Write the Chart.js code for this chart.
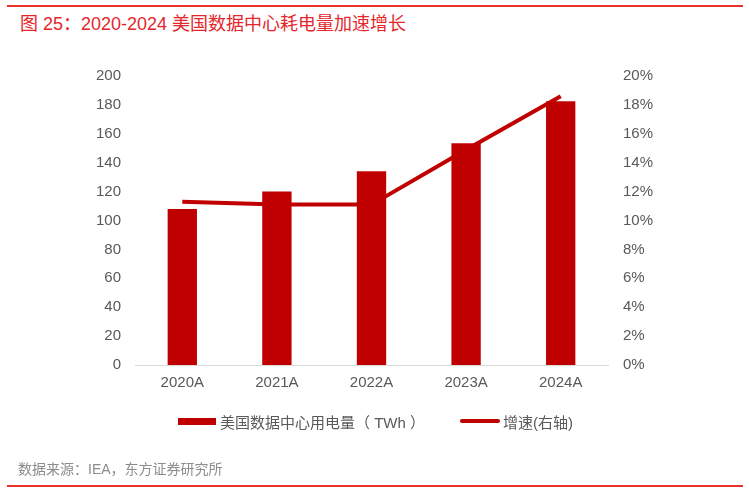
<!DOCTYPE html>
<html>
<head>
<meta charset="utf-8">
<script src="https://cdn.jsdelivr.net/npm/chart.js@4.4.1/dist/chart.umd.min.js"></script>
<style>
  html, body { margin: 0; padding: 0; background: #fff; }
  body { width: 749px; height: 492px; position: relative; overflow: hidden;
         font-family: "Liberation Sans", "Noto Sans CJK SC", sans-serif; }
  .rule { position: absolute; left: 7px; width: 736px; height: 2px; background: #e8312f; }
  #title { position: absolute; left: 20px; top: 9px; font-size: 18px; font-weight: normal;
           color: #e5262b; white-space: nowrap; }
  #source { position: absolute; left: 18px; top: 458px; font-size: 14px; color: #8c8c8c; white-space: nowrap; }
  #chart-wrap { position: absolute; left: 0; top: 0; width: 749px; height: 492px; }
  .legend { position: absolute; top: 411px; font-size: 15px; color: #595959; white-space: nowrap; }
  .sw { position: absolute; background: #c00000; }
</style>
</head>
<body>
<div class="rule" style="top:5px"></div>
<div id="title">图 25：2020-2024 美国数据中心耗电量加速增长</div>
<div id="chart-wrap"><canvas id="c" width="749" height="492"></canvas></div>
<div class="sw" style="left:178px; top:418px; width:38px; height:7px;"></div>
<div class="legend" style="left:220px;">美国数据中心用电量（ TWh ）</div>
<div class="sw" style="left:460px; top:419px; width:40px; height:4px; border-radius:2px;"></div>
<div class="legend" style="left:503px;">增速(右轴)</div>
<div id="source">数据来源：IEA，东方证券研究所</div>
<div class="rule" style="top:485px"></div>
<script>
// categories and values
var years = ['2020A', '2021A', '2022A', '2023A', '2024A'];
var usage = [108, 120, 134, 153.5, 182.5];      // TWh, left axis
var growth = [11.3, 11.1, 11.1, 14.9, 18.6];    // %, right axis

var red = '#c00000';
var tickFont = { family: '"Liberation Sans", "Noto Sans CJK SC", sans-serif', size: 15 };

new Chart(document.getElementById('c'), {
    type: 'bar',
    data: {
        labels: years,
        datasets: [{
            type: 'line',
            label: '增速(右轴)',
            data: growth,
            yAxisID: 'y1',
            borderColor: red,
            borderWidth: 4,
            pointRadius: 0,
            tension: 0,
            order: 0
        }, {
            type: 'bar',
            label: '美国数据中心用电量（ TWh ）',
            data: usage,
            yAxisID: 'y',
            backgroundColor: red,
            categoryPercentage: 1,
            barPercentage: 0.31,
            order: 1
        }]
    },
    options: {
        responsive: false,
        animation: false,
        layout: { padding: { top: 76, left: 0, right: 0, bottom: 0 } },
        plugins: { legend: { display: false }, tooltip: { enabled: false } },
        scales: {
            x: {
                grid: { display: false, drawTicks: false },
                border: { display: true, color: '#d9d9d9', width: 1 },
                ticks: { color: '#595959', font: tickFont, padding: 9 },
                afterFit: function (s) { s.height = 127; }
            },
            y: {
                position: 'left',
                min: 0, max: 200,
                grid: { display: false, drawTicks: false },
                border: { display: false },
                ticks: { stepSize: 20, color: '#595959', font: tickFont, padding: 14 },
                afterFit: function (s) { s.width = 135; }
            },
            y1: {
                position: 'right',
                min: 0, max: 20,
                grid: { display: false, drawTicks: false },
                border: { display: false },
                ticks: {
                    stepSize: 2, color: '#595959', font: tickFont, padding: 15,
                    callback: function (v) { return v + '%'; }
                },
                afterFit: function (s) { s.width = 141; }
            }
        }
    }
});
</script>
</body>
</html>
